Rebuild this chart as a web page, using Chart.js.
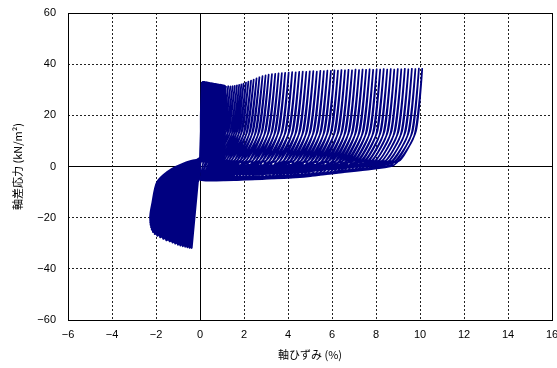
<!DOCTYPE html>
<html>
<head>
<meta charset="utf-8">
<script src="https://cdn.jsdelivr.net/npm/chart.js@4.4.1/dist/chart.umd.min.js"></script>
<style>
  html, body { margin: 0; padding: 0; background: #fff; }
  canvas { display: block; }
</style>
</head>
<body>
<canvas id="hysteresis-chart" width="557" height="368"></canvas>
<script>
// axis ticks
var strainTicks = [-6, -4, -2, 0, 2, 4, 6, 8, 10, 12, 14, 16];
var stressTicks = [-60, -40, -20, 0, 20, 40, 60];

// early cycles (compression side still reached): extension peak, compression peak
var earlyPeakStrain = [0.08, 0.12, 0.16, 0.2, 0.24, 0.28, 0.33, 0.38, 0.43, 0.48, 0.53, 0.58, 0.63, 0.68, 0.73, 0.78,
  0.83, 0.88, 0.93, 0.98, 1.03, 1.08, 1.13, 1.18];
var earlyPeakStress = [32.7, 33.0, 33.0, 32.95, 32.9, 32.85, 32.8, 32.7, 32.6, 32.55, 32.5, 32.4, 32.3, 32.25, 32.2,
  32.1, 32.0, 31.95, 31.9, 31.8, 31.7, 31.6, 31.5, 31.4];
var compStrain = [-0.38, -0.47, -0.57, -0.67, -0.78, -0.89, -1.0, -1.12, -1.24, -1.37, -1.52, -1.66, -1.8, -1.93,
  -2.04, -2.12, -2.17, -2.2, -2.22, -2.23, -2.23, -2.23, -2.23, -2.22];
var compStress = [-31.8, -31.7, -31.5, -31.3, -31.1, -30.8, -30.5, -30.1, -29.7, -29.2, -28.8, -28.2, -27.6, -27.0,
  -26.4, -25.6, -24.7, -23.8, -22.9, -22.1, -21.4, -20.9, -20.5, -20.2];
// strain where each early unloading path passes stress +2.4, -1, -6, -14
var compPathAtP2 = [0.03, 0.02, 0.02, 0.01, 0.0, -0.01, -0.02, -0.03, -0.05, -0.06, -0.08, -0.09, -0.11, -0.12, -0.14,
  -0.15, -0.17, -0.18, -0.2, -0.21, -0.22, -0.24, -0.25, -0.26];
var compPathAtM1 = [-0.06, -0.09, -0.12, -0.16, -0.2, -0.25, -0.3, -0.36, -0.42, -0.48, -0.54, -0.61, -0.68, -0.75,
  -0.82, -0.89, -0.96, -1.02, -1.08, -1.13, -1.18, -1.22, -1.26, -1.29];
var compPathAtM6 = [-0.15, -0.2, -0.26, -0.32, -0.39, -0.46, -0.54, -0.62, -0.71, -0.8, -0.9, -1.0, -1.1, -1.2, -1.3,
  -1.4, -1.5, -1.59, -1.67, -1.74, -1.8, -1.85, -1.9, -1.94];
var compPathAtM14 = [-0.22, -0.28, -0.35, -0.42, -0.5, -0.58, -0.67, -0.76, -0.86, -0.96, -1.07, -1.18, -1.29, -1.4,
  -1.51, -1.62, -1.72, -1.81, -1.9, -1.98, -2.04, -2.09, -2.13, -2.16];
// reloading path from compression back towards extension (strain, stress)
var reloadPath = [[-0.1, -6], [0.03, 4]];

// later cycles (strain accumulating on the extension side)
var latePeakStrain = [1.28, 1.38, 1.48, 1.58, 1.68, 1.78, 1.88, 1.98, 2.09, 2.2, 2.32, 2.44, 2.57, 2.7, 2.84, 2.98,
  3.12, 3.27, 3.42, 3.57, 3.72, 3.87, 4.03, 4.19, 4.35, 4.51, 4.67, 4.83, 4.99, 5.15, 5.31, 5.47, 5.63, 5.79, 5.95,
  6.11, 6.27, 6.43, 6.59, 6.75, 6.91, 7.07, 7.23, 7.39, 7.55, 7.71, 7.87, 8.03, 8.19, 8.35, 8.51, 8.67, 8.83, 8.99,
  9.15, 9.31, 9.47, 9.63, 9.79, 9.95, 10.1];
var latePeakStress = [31.4, 31.3, 31.4, 31.5, 31.7, 31.9, 32.1, 32.4, 32.8, 33.2, 33.6, 34.0, 34.5, 34.9, 35.3, 35.6,
  35.9, 36.1, 36.2, 36.4, 36.5, 36.6, 36.7, 36.9, 36.8, 37.0, 37.1, 37.0, 37.2, 37.3, 37.1, 37.4, 37.3, 37.5, 37.4,
  37.6, 37.5, 37.7, 37.6, 37.8, 37.6, 37.9, 37.7, 37.9, 37.8, 38.0, 37.8, 38.0, 37.9, 38.1, 37.9, 38.1, 37.9, 38.1,
  38.0, 38.2, 38.0, 38.2, 38.1, 38.3, 38.2];
var lateTroughStrain = [0.05, 0.1, 0.0, 0.15, 0.05, 0.2, 0.1, 0.0, 0.15, 0.25, 0.1, 0.05, 0.2, 0.15, 0.3, 0.1, 0.2, 0.05,
  0.25, 0.15, 0.3, 0.1, 0.2, 0.35, 0.15, 0.25, 0.1, 0.3, 0.2, 0.35, 0.15, 0.25, 0.4, 0.2, 0.3, 0.15, 0.35, 0.25, 0.4,
  0.2, 0.3, 0.45, 0.25, 0.35, 0.2, 0.4, 0.3, 0.45, 0.25, 0.35, 0.5, 0.3, 0.4, 0.25, 0.45, 0.35, 0.5, 0.3, 0.4, 0.55, 0.35];
var lateTroughStress = [-5.0, -5.1, -4.9, -5.05, -5.1, -4.95, -5.0, -5.1, -4.9, -5.0, -5.05, -4.9, -5.0, -5.1, -4.95,
  -5.0, -4.9, -5.05, -5.0, -4.9, -5.0, -4.95, -4.85, -5.0, -4.9, -4.8, -4.95, -4.85, -4.9, -4.8, -4.9, -4.85, -4.75,
  -4.9, -4.8, -4.85, -4.75, -4.8, -4.7, -4.85, -4.75, -4.7, -4.8, -4.7, -4.75, -4.65, -4.7, -4.6, -4.75, -4.65, -4.6,
  -4.7, -4.6, -4.65, -4.55, -4.6, -4.5, -4.65, -4.55, -4.5, -4.6];
// stress where each loading path leaves the floor before rising
var lateFloorStress = [-5.0, -5.0, -5.0, -5.0, -5.0, -5.0, -5.0, -5.0, -5.0, -5.0, -4.9, -4.85, -4.8, -4.7, -4.65, -4.55,
  -4.5, -4.4, -4.3, -4.2, -4.15, -4.1, -4.0, -3.95, -3.9, -3.8, -3.75, -3.7, -3.6, -3.55, -3.5, -3.4, -3.35, -3.25,
  -3.2, -3.1, -3.05, -3.0, -2.9, -2.85, -2.8, -2.7, -2.6, -2.45, -2.25, -2.1, -1.9, -1.75, -1.6, -1.45, -1.3, -1.15,
  -1.0, -0.85, -0.7, -0.6, -0.45, -0.3, -0.15, 0.0, 0.1];
// stress level of the return (unloading) path before each late cycle, last one after the final peak
var lateReturnStress = [-3.2, -0.5, -2.0, 0.4, -2.8, -1.2, 0.0, -3.5, -1.7, -0.2, -3.2, -0.5, -2.0, 0.4, -2.8, -1.2,
  0.0, -3.5, -1.7, -0.2, -3.2, -0.5, -2.0, 0.4, -2.8, -1.2, 0.0, -3.5, -1.7, -0.2, -1.0, 0.3, -2.6, -0.6, -1.8, 0.5,
  -2.4, -1.2, 0.1, -2.2, -0.8, 0.4, -1.9, -0.4, -1.5, 0.2, -1.2, -0.3, 0.5, -0.9, -0.1, 0.4, -0.5, 0.2, -0.2, 0.5,
  0.0, 0.6, 0.2, 0.7, 0.4, 0.3];
// loop shape of the later cycles, relative to each peak strain
var lateLoop = { down1Dx: -0.28, down1Y: 14, down2Dx: -1.0, down2Y: 2.5, returnDx: -2.0, floorDx: -1.4, upDx: -0.36, upY: 12 };

function buildEarlyPath() {
    var pts = [{x: 0, y: 0}];
    for (var i = 0; i < earlyPeakStrain.length; i++) {
        if (i > 0) {
            var xp = earlyPeakStrain[i - 1];
            pts.push({x: xp - 0.04, y: 14});
            pts.push({x: xp - 0.08, y: 2});
        }
        pts.push({x: compPathAtP2[i], y: 2.4});
        pts.push({x: compPathAtM1[i], y: -1});
        pts.push({x: compPathAtM6[i], y: -6});
        pts.push({x: compPathAtM14[i], y: -14});
        pts.push({x: compStrain[i], y: compStress[i]});
        reloadPath.forEach(function (p) { pts.push({x: p[0], y: p[1]}); });
        pts.push({x: earlyPeakStrain[i] * 0.5, y: 20});
        pts.push({x: earlyPeakStrain[i], y: earlyPeakStress[i]});
    }
    return pts;
}

// outline of the compression lobe: last unloading path, the compression peaks, the reloading path
function buildLobeOutline() {
    var last = earlyPeakStrain.length - 1;
    var pts = [
        {x: compPathAtP2[last], y: 2.4}, {x: compPathAtM1[last], y: -1},
        {x: compPathAtM6[last], y: -6}, {x: compPathAtM14[last], y: -14}
    ];
    for (var i = last; i >= 0; i--) pts.push({x: compStrain[i], y: compStress[i]});
    reloadPath.forEach(function (p) { pts.push({x: p[0], y: p[1]}); });
    return pts;
}

function pushDescent(pts, xp, ret, tx) {
    pts.push({x: xp + lateLoop.down1Dx, y: lateLoop.down1Y});
    pts.push({x: xp + lateLoop.down2Dx, y: lateLoop.down2Y});
    if (tx === null || xp + lateLoop.returnDx > tx + 0.8) {
        pts.push({x: xp + lateLoop.returnDx, y: ret});
        if (tx !== null) pts.push({x: tx + 0.5, y: ret - 0.6});
    }
}

function buildLatePath() {
    var last = earlyPeakStrain.length - 1;
    var prev = earlyPeakStrain[last];
    var pts = [{x: prev, y: earlyPeakStress[last]}];
    for (var j = 0; j < latePeakStrain.length; j++) {
        var xp = latePeakStrain[j], tx = lateTroughStrain[j];
        pushDescent(pts, prev, lateReturnStress[j], tx);
        pts.push({x: tx, y: lateTroughStress[j]});
        if (xp + lateLoop.floorDx > tx + 0.3) {
            pts.push({x: xp + lateLoop.floorDx, y: lateFloorStress[j]});
        }
        pts.push({x: xp + lateLoop.upDx, y: lateLoop.upY});
        pts.push({x: xp, y: latePeakStress[j]});
        prev = xp;
    }
    pushDescent(pts, prev, lateReturnStress[latePeakStrain.length], null);
    return pts;
}

function minusLabel(v) {
    return v < 0 ? '\u2212' + Math.abs(v) : String(v);
}

function crisp(p) {
    return Math.round(p - 0.5) + 0.5;
}

// solid zero lines and the densely overdrawn lobe under the data, solid frame on top
var axisFrame = {
    id: 'axisFrame',
    beforeDatasetsDraw: function (chart) {
        var ctx = chart.ctx, a = chart.chartArea;
        var sx = chart.scales.x, sy = chart.scales.y;
        var x0 = crisp(sx.getPixelForValue(0));
        var y0 = crisp(sy.getPixelForValue(0));
        ctx.save();
        ctx.strokeStyle = '#000';
        ctx.lineWidth = 1;
        ctx.beginPath();
        ctx.moveTo(x0, a.top);
        ctx.lineTo(x0, a.bottom);
        ctx.moveTo(a.left, y0);
        ctx.lineTo(a.right, y0);
        ctx.stroke();

        ctx.fillStyle = '#000080';
        ctx.beginPath();
        buildLobeOutline().forEach(function (p, k) {
            var px = sx.getPixelForValue(p.x), py = sy.getPixelForValue(p.y);
            if (k === 0) ctx.moveTo(px, py); else ctx.lineTo(px, py);
        });
        ctx.closePath();
        ctx.fill();
        ctx.restore();
    },
    afterDraw: function (chart) {
        var ctx = chart.ctx, a = chart.chartArea;
        var l = crisp(a.left), r = crisp(a.right), t = crisp(a.top), b = crisp(a.bottom);
        ctx.save();
        ctx.strokeStyle = '#000';
        ctx.lineWidth = 1;
        ctx.strokeRect(l, t, r - l, b - t);
        ctx.restore();
    }
};

var tickFont = { family: '"Liberation Sans", Arial, sans-serif', size: 11 };
var titleFont = { family: '"Noto Sans CJK JP", "Liberation Sans", sans-serif', size: 11 };

var ctx = document.getElementById('hysteresis-chart').getContext('2d');
var chart = new Chart(ctx, {
    type: 'scatter',
    data: {
        datasets: [{
            data: buildEarlyPath(),
            showLine: true,
            borderColor: '#000080',
            borderWidth: 2,
            pointRadius: 0,
            tension: 0.25,
            fill: false
        }, {
            data: buildLatePath(),
            showLine: true,
            borderColor: '#000080',
            borderWidth: 1.7,
            pointRadius: 0,
            tension: 0.2,
            fill: false
        }]
    },
    options: {
        responsive: false,
        animation: false,
        layout: { padding: { top: 13, right: 5, left: 0, bottom: 0 } },
        plugins: {
            legend: { display: false },
            tooltip: { enabled: false }
        },
        scales: {
            x: {
                type: 'linear', min: -6, max: 16,
                afterBuildTicks: function (scale) {
                    scale.ticks = strainTicks.map(function (v) { return {value: v}; });
                },
                afterFit: function (scale) {
                    scale.height = 48;
                    scale.paddingLeft = 0;
                    scale.paddingRight = 0;
                },
                ticks: { color: '#000', font: tickFont, padding: 8, maxRotation: 0, callback: minusLabel },
                grid: { color: '#222', drawTicks: false },
                border: { display: false, dash: [2, 2] },
                title: { display: true, text: '軸ひずみ (%)', color: '#000', font: titleFont, padding: { top: 0, bottom: 7 } }
            },
            y: {
                type: 'linear', min: -60, max: 60,
                afterBuildTicks: function (scale) {
                    scale.ticks = stressTicks.map(function (v) { return {value: v}; });
                },
                afterFit: function (scale) {
                    scale.width = 68;
                    scale.paddingTop = 0;
                    scale.paddingBottom = 0;
                },
                ticks: { color: '#000', font: tickFont, padding: 12, callback: minusLabel },
                grid: { color: '#222', drawTicks: false },
                border: { display: false, dash: [2, 2] },
                title: { display: true, text: '軸差応力 (kN/m²)', color: '#000', font: titleFont, padding: { top: 11, bottom: 0 } }
            }
        }
    },
    plugins: [axisFrame]
});
</script>
</body>
</html>
